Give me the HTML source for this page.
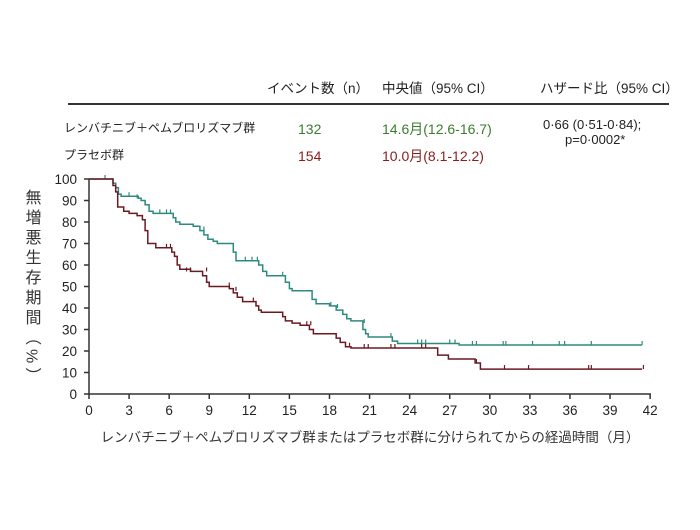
<!DOCTYPE html>
<html><head><meta charset="utf-8"><style>
body{margin:0;background:#fff;width:700px;height:525px;overflow:hidden;font-family:"Liberation Sans","Noto Sans CJK JP",sans-serif}
</style></head><body>
<svg id="s" width="700" height="525" xmlns="http://www.w3.org/2000/svg" font-family="Liberation Sans, Noto Sans CJK JP, sans-serif">
<g font-size="13.5" fill="#222">
<text x="267" y="93">イベント数（n）</text>
<text x="382" y="93">中央値（95% CI）</text>
<text x="540" y="93">ハザード比（95% CI）</text>
</g>
<line x1="68" y1="104" x2="669" y2="104" stroke="#333" stroke-width="2"/>
<g font-size="12">
<text x="64" y="132" fill="#222">レンバチニブ＋ペムブロリズマブ群</text>
<text x="64" y="159" fill="#222">プラセボ群</text>
</g>
<g font-size="14">
<text x="298" y="134" fill="#3a7d2e">132</text>
<text x="298" y="161" fill="#8b1c1c">154</text>
<text x="382" y="134" fill="#3a7d2e">14.6月(12.6-16.7)</text>
<text x="382" y="161" fill="#8b1c1c">10.0月(8.1-12.2)</text>
</g>
<text x="543" y="129" font-size="13" fill="#222">0·66 (0·51-0·84);</text>
<text x="565" y="144" font-size="13" fill="#222">p=0·0002*</text>
<text font-size="16" fill="#333" style="writing-mode:vertical-rl;letter-spacing:4px" x="31" y="189">無増悪生存期間（%）</text>
<text x="370" y="442" font-size="13.5" fill="#333" text-anchor="middle">レンバチニブ＋ペムブロリズマブ群またはプラセボ群に分けられてからの経過時間（月）</text>
<g id="ax" stroke="#333" stroke-width="1.5" fill="none"></g>
<g id="lb" font-size="13.5" fill="#222"></g>
<g id="cv"></g>
</svg>
<script>
var ns="http://www.w3.org/2000/svg";
function X(m){return 89+m*13.36}function Y(p){return 394-p*2.15}
function el(t,a,p,txt){var e=document.createElementNS(ns,t);for(var k in a)e.setAttribute(k,a[k]);if(txt!=null)e.textContent=txt;document.getElementById(p).appendChild(e);}
el("line",{x1:89,y1:179,x2:89,y2:394},"ax");el("line",{x1:89,y1:394,x2:651,y2:394},"ax");
for(var p=0;p<=100;p+=10){el("line",{x1:84,y1:Y(p),x2:89,y2:Y(p)},"ax");el("text",{x:77,y:Y(p)+5,"text-anchor":"end"},"lb",p);}
for(var m=0;m<=42;m+=3){el("line",{x1:X(m),y1:394,x2:X(m),y2:399},"ax");el("text",{x:X(m),y:415,"text-anchor":"middle"},"lb",m);}
function curve(pts,end,col,cens){var d="M"+X(0)+","+Y(100),y=100;pts.forEach(function(q){d+="H"+X(q[0]).toFixed(1)+"V"+Y(q[1]).toFixed(1);y=q[1];});d+="H"+X(end);
el("path",{d:d,fill:"none",stroke:col,"stroke-width":1.5},"cv");
cens.forEach(function(c){el("line",{x1:X(c[0]),y1:Y(c[1])-4,x2:X(c[0]),y2:Y(c[1]),stroke:col,"stroke-width":1.2},"cv");});}
curve([[1.8,98],[2,96],[2.2,93],[2.4,92],[3.7,91],[3.9,90],[4.2,88],[4.5,85],[4.8,84],[6.3,82],[6.5,80],[6.8,79],[7.8,78],[8.3,76],[8.6,74],[8.9,72],[9.3,71],[9.6,70],[10.8,66],[11,62],[12.7,60],[13,57],[13.3,55],[14.7,52],[15,49],[15.2,48],[16.7,44],[17,42],[18,41],[18.5,39],[19,37],[19.3,35],[19.6,34],[20.5,30],[20.7,28],[20.9,26.5],[22.7,24.6],[23.1,23.5],[27.7,22.8]],41.4,"#2f8a7e",
[[1.2,100],[3,92],[3.6,91],[4.2,88],[5.3,84],[5.8,84],[6.1,84],[8.6,76],[11.7,62],[12.2,62],[12.6,62],[14.5,55],[18.1,41],[18.6,40],[20.6,33],[22.6,26.5],[24.6,23.5],[24.9,23.5],[25.2,23.5],[27,23.5],[27.4,23.5],[28.7,22.8],[29,22.8],[31,22.8],[31.2,22.8],[33.2,22.8],[35.2,22.8],[35.6,22.8],[37.6,22.8],[41.4,22.8]]);
curve([[1.8,97],[2,94],[2.15,87],[2.6,85],[3,84],[3.6,83],[4,81],[4.2,76],[4.4,70],[5,68],[6.2,66],[6.4,64],[6.6,60],[6.8,58],[7.6,57],[8.5,55],[8.8,52],[9,50],[10.5,49],[10.8,47],[11.1,45],[11.5,43],[12.5,41],[12.7,39],[12.9,38],[14.5,36],[14.7,34],[15.2,33],[15.8,32],[16.5,30],[16.8,28],[18.5,26],[18.8,24],[19.2,22],[19.6,21.4],[26.1,18.1],[26.9,16.3],[28.9,14.4],[29.3,11.6]],41.4,"#6b1a22",
[[5.8,68],[6.1,68],[7.3,57],[7.6,57],[8.8,57],[10.5,50],[11,48],[12.3,43],[16.3,32],[16.6,32],[19.5,22],[20.6,21.4],[20.9,21.4],[22.6,21.4],[22.9,21.4],[24.9,21.4],[25.2,21.4],[29,14.4],[31.1,11.6],[32.9,11.6],[37.4,11.6],[37.6,11.6],[41.5,11.6]]);
</script>
</body></html>
